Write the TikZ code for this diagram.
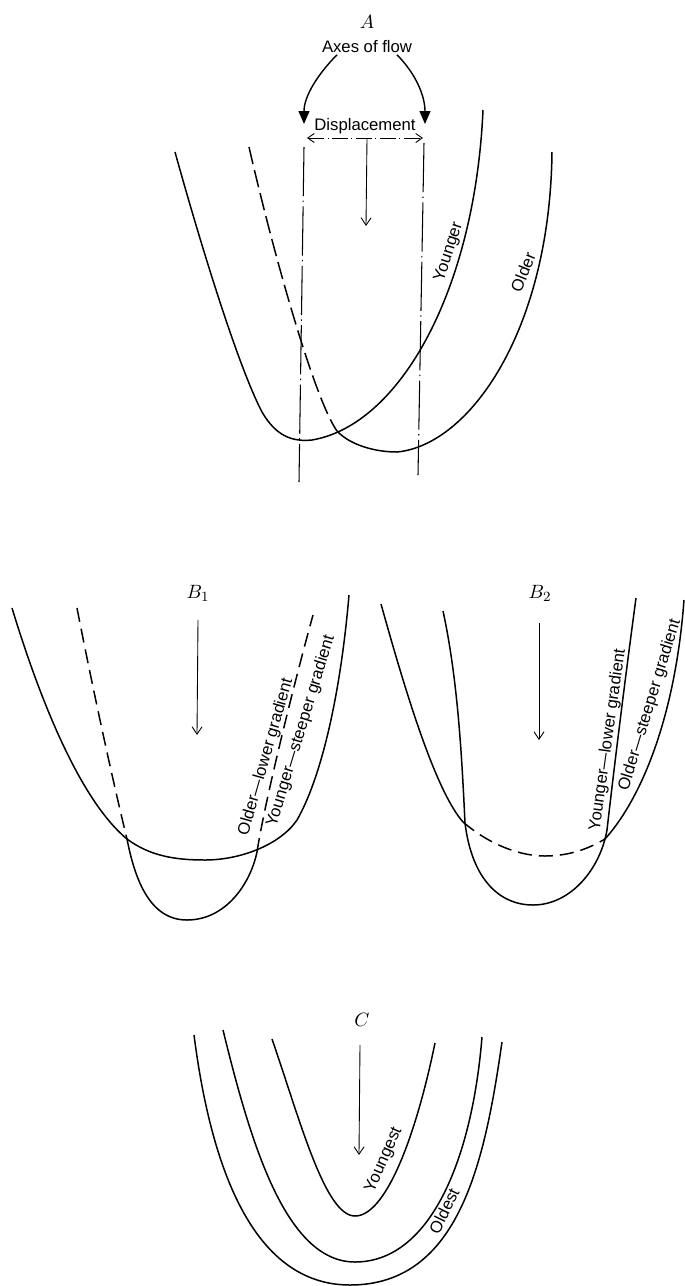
\documentclass[tikz,border=0pt]{standalone}
\usepackage{fontspec}
\setsansfont{Liberation Sans}
\usetikzlibrary{arrows.meta, positioning}

\begin{document}
\begin{tikzpicture}[
    x=0.02cm, y=-0.02cm,
    curve/.style={line width=0.85pt},
    hidden/.style={curve, dash pattern=on 8pt off 4pt},
    flowaxis/.style={line width=0.6pt, dash pattern=on 28pt off 2.5pt on 0.8pt off 2.5pt},
    flow/.style={line width=0.5pt, -{Straight Barb[length=1.5mm, width=2mm]}},
    title/.style={font=\fontsize{11}{13}\selectfont},
    lbl/.style={font=\sffamily\fontsize{9.5}{11}\selectfont, inner sep=1pt},
]
    \useasboundingbox (0,0) rectangle (684,1286);

    % ---- Panel A
    \node[title] (tA) at (367,22) {$A$};
    \node[lbl, below=2pt of tA] (axes) {Axes of flow};
    \node[lbl] (disp) at (365,126) {Displacement};
    \coordinate (axL1) at (304,147);
    \coordinate (axL2) at (299,482);
    \coordinate (axR1) at (424,143);
    \coordinate (axR2) at (418,475);
    \coordinate (hdL) at (304,124);
    \coordinate (hdR) at (425,124);
    \coordinate (dL) at (307,138);
    \coordinate (dR) at (423,138);
    \coordinate (fA1) at (367,138);
    \coordinate (fA2) at (366,226);

    \draw[flowaxis] (axL1) -- (axL2);
    \draw[flowaxis] (axR1) -- (axR2);
    \draw[line width=0.8pt, -{Triangle[length=2.6mm, width=2.2mm]}]
        ([xshift=-0.6cm]axes.south) .. controls (318,74) and (304,96) .. (hdL);
    \draw[line width=0.8pt, -{Triangle[length=2.6mm, width=2.2mm]}]
        ([xshift=0.6cm]axes.south) .. controls (416,74) and (425,96) .. (hdR);
    \draw[line width=0.5pt, dash pattern=on 9pt off 2pt on 0.6pt off 2pt,
        {Straight Barb[length=1.3mm, width=1.8mm]}-{Straight Barb[length=1.3mm, width=1.8mm]}] (dL) -- (dR);
    \draw[flow] (fA1) -- (fA2);

    % younger
    \draw[curve] (175,152) .. controls (205,260) and (240,370) .. (262,412)
        .. controls (276,436) and (292,442) .. (312,440)
        .. controls (400,425) and (475,290) .. (483,110);
    % older
    \draw[curve, dash pattern=on 10pt off 3.5pt] (249,147) .. controls (275,260) and (315,400) .. (337,431);
    \draw[curve] (337,431) .. controls (350,445) and (375,452) .. (397,452)
        .. controls (470,445) and (550,330) .. (552,152);

    \node[lbl, rotate=72] (young) at (449,252) {Younger};
    \node[lbl, rotate=68] (old) at (523,272) {Older};

    % ---- Panel B1
    \node[title] (tB1) at (198,593) {$B_1$};
    \draw[flow] (198,620) -- (197,735);

    \draw[curve] (12,608) .. controls (40,700) and (80,800) .. (127,839)
        .. controls (150,856) and (175,860) .. (205,860)
        .. controls (240,860) and (280,845) .. (297,820)
        .. controls (320,780) and (340,700) .. (349,595);
    \draw[hidden] (77,608) .. controls (95,700) and (115,790) .. (127,839);
    \draw[curve] (127,839) .. controls (135,880) and (150,920) .. (187,920)
        .. controls (225,920) and (250,885) .. (257,852);
    \draw[hidden] (257,852) .. controls (265,800) and (295,680) .. (313,615);

    \node[lbl, rotate=74] (oldB1) at (266,757) {Older—lower gradient};
    \node[lbl, rotate=73] (youngB1) at (301,731) {Younger—steeper gradient};

    % ---- Panel B2
    \node[title] (tB2) at (540,593) {$B_2$};
    \draw[flow] (539,623) -- (539,740);

    \draw[curve] (381,604) .. controls (405,690) and (435,790) .. (463,822);
    \draw[hidden] (463,822) .. controls (490,845) and (520,856) .. (545,856)
        .. controls (570,856) and (590,848) .. (605,839);
    \draw[curve] (605,839) .. controls (640,800) and (675,720) .. (684,600);
    \draw[curve] (443,611) .. controls (458,680) and (462,760) .. (465,823)
        .. controls (472,880) and (500,905) .. (533,905)
        .. controls (570,905) and (600,870) .. (607,830)
        .. controls (615,760) and (625,680) .. (636,598);

    \node[lbl, rotate=82] (youngB2) at (608,740) {Younger—lower gradient};
    \node[lbl, rotate=73] (oldB2) at (650,705) {Older—steeper gradient};

    % ---- Panel C
    \node[title] (tC) at (362,1020) {$C$};
    \draw[flow] (360,1045) -- (359,1155);

    \draw[curve] (272,1039) .. controls (300,1120) and (325,1216) .. (355,1216)
        .. controls (385,1216) and (415,1140) .. (435,1043);
    \draw[curve] (223,1030) .. controls (250,1140) and (285,1262) .. (355,1262)
        .. controls (430,1262) and (472,1160) .. (482,1037);
    \draw[curve] (194,1035) .. controls (210,1160) and (250,1285) .. (350,1285)
        .. controls (460,1285) and (485,1160) .. (502,1042);

    \node[lbl, rotate=66] (youngest) at (384,1160) {Youngest};
    \node[lbl, rotate=64] (oldest) at (444,1211) {Oldest};
\end{tikzpicture}
\end{document}
